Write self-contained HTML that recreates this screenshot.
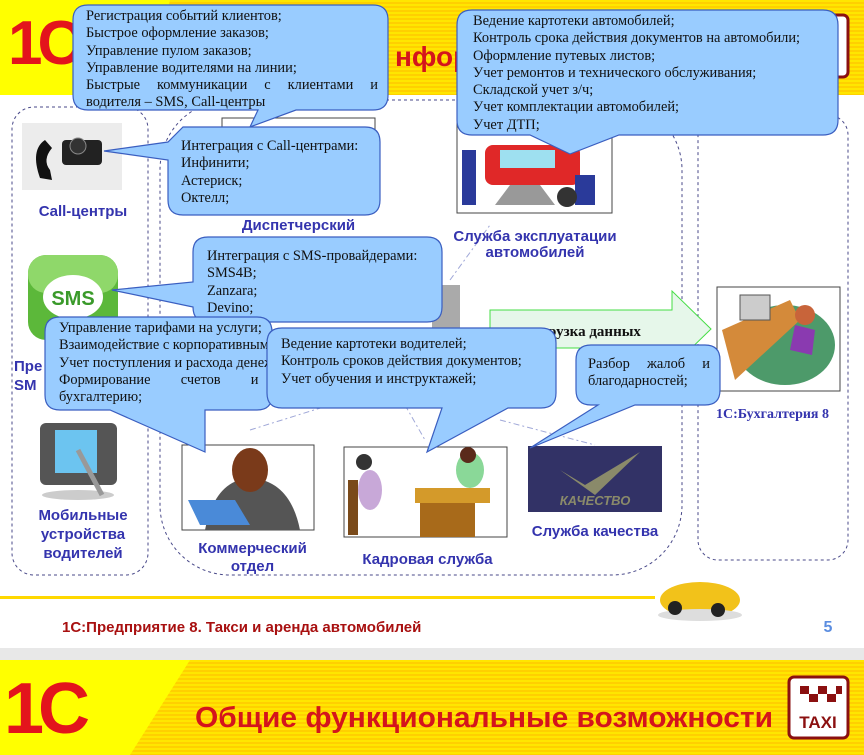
<!DOCTYPE html>
<html><head><meta charset="utf-8"><style>
body{margin:0;width:864px;height:755px;overflow:hidden;background:#e8e8e8;position:relative;font-family:"Liberation Sans",sans-serif}
.t{position:absolute;font-family:"Liberation Serif",serif;font-size:14.4px;line-height:17.3px;color:#111;text-align:justify}
.t div{white-space:nowrap}
.j{white-space:normal!important;text-align:justify;text-align-last:justify}
.lb{position:absolute;color:#3434ae;font-weight:bold;font-size:15px;text-align:center;line-height:19px}
</style></head><body>
<svg width="864" height="755" style="position:absolute;left:0;top:0">
<defs>
<pattern id="st" width="4" height="4" patternUnits="userSpaceOnUse"><rect width="4" height="4" fill="#ffe600"/><rect y="2" width="4" height="2" fill="#ffd000"/></pattern>
</defs>
<rect x="0" y="0" width="864" height="648" fill="#fff"/>
<rect x="0" y="0" width="864" height="95" fill="url(#st)"/>
<polygon points="0,0 170,0 150,95 0,95" fill="#ffff00"/>
<text x="8" y="64" font-family="Liberation Sans" font-weight="bold" font-size="62" fill="#e3141c" letter-spacing="-5">1С</text>
<text x="395" y="66" font-family="Liberation Sans" font-weight="bold" font-size="28" fill="#d4141c">нфор</text>
<rect x="812" y="15" width="36" height="62" rx="5" fill="#fff" stroke="#8b1010" stroke-width="3"/>
<rect x="12" y="107" width="136" height="468" rx="22" fill="none" stroke="#4a4a8a" stroke-dasharray="3,3"/>
<rect x="160" y="100" width="522" height="475" rx="70" fill="none" stroke="#4a4a8a" stroke-dasharray="3,3"/>
<rect x="698" y="115" width="150" height="445" rx="20" fill="none" stroke="#4a4a8a" stroke-dasharray="3,3"/>
<g stroke="#a0a8d8" stroke-dasharray="6,3,2,3" fill="none">
<line x1="450" y1="280" x2="490" y2="225"/><line x1="250" y1="430" x2="330" y2="405"/><line x1="500" y1="420" x2="595" y2="445"/><line x1="405" y1="405" x2="425" y2="440"/>
</g>
<rect x="22" y="123" width="100" height="67" fill="#ececec"/>
<rect x="62" y="140" width="40" height="25" rx="4" fill="#222"/><circle cx="78" cy="146" r="8" fill="#333" stroke="#888"/>
<path d="M45,140 Q30,150 40,178 L52,180 L50,170 Q42,160 52,148 Z" fill="#111"/>
<rect x="28" y="255" width="90" height="85" rx="18" fill="#5cb83a"/><rect x="28" y="255" width="90" height="38" rx="18" fill="#8fd86a"/>
<ellipse cx="73" cy="297" rx="30" ry="22" fill="#fff"/><text x="73" y="305" text-anchor="middle" font-weight="bold" font-size="20" fill="#3a9a2a">SMS</text>
<rect x="40" y="423" width="77" height="62" rx="6" fill="#555"/><rect x="55" y="430" width="42" height="43" fill="#6cc4f0"/>
<ellipse cx="78" cy="495" rx="36" ry="5" fill="#ccc"/><line x1="78" y1="450" x2="102" y2="495" stroke="#999" stroke-width="5"/>
<rect x="222" y="118" width="153" height="60" fill="#fff" stroke="#444"/>
<rect x="457" y="100" width="155" height="113" fill="#fff" stroke="#444"/>
<rect x="485" y="145" width="95" height="40" rx="8" fill="#e02828"/><rect x="500" y="150" width="55" height="18" fill="#9ee0f0"/>
<polygon points="510,185 540,185 555,205 495,205" fill="#999"/>
<rect x="462" y="150" width="14" height="55" fill="#2a3a9a"/><rect x="575" y="175" width="20" height="30" fill="#2a3a9a"/><circle cx="567" cy="197" r="10" fill="#333"/>
<rect x="432" y="285" width="28" height="45" fill="#aaa"/>
<polygon points="490,310 672,310 672,291 711,329 672,367 672,348 490,348" fill="#e6f7ea" stroke="#44dd44"/>
<text x="548" y="336" font-family="Liberation Serif" font-weight="bold" font-size="15" fill="#111">рузка данных</text>
<rect x="717" y="287" width="123" height="104" fill="#fff" stroke="#444"/>
<ellipse cx="785" cy="345" rx="50" ry="40" fill="#4d9a6a"/><polygon points="722,330 790,300 800,320 735,380" fill="#d48a3a"/>
<rect x="740" y="295" width="30" height="25" fill="#ccc" stroke="#555"/><circle cx="805" cy="315" r="10" fill="#c8643a"/><path d="M795,325 L815,330 L812,355 L790,350Z" fill="#8a3ab0"/>
<rect x="182" y="445" width="132" height="85" fill="#fff" stroke="#444"/>
<path d="M205,530 Q215,480 250,478 Q290,480 300,530 Z" fill="#555"/><ellipse cx="250" cy="470" rx="18" ry="22" fill="#7a3a1a"/>
<polygon points="188,500 235,500 250,525 200,525" fill="#4a8ad8"/>
<rect x="344" y="447" width="163" height="90" fill="#fff" stroke="#444"/>
<rect x="415" y="488" width="75" height="15" fill="#d49a2a"/><rect x="420" y="503" width="55" height="34" fill="#a86a1a"/>
<ellipse cx="470" cy="470" rx="14" ry="18" fill="#8ad898"/><circle cx="468" cy="455" r="8" fill="#5a2a1a"/>
<ellipse cx="370" cy="490" rx="12" ry="20" fill="#c8a8d8"/><circle cx="364" cy="462" r="8" fill="#333"/><rect x="348" y="480" width="10" height="55" fill="#7a4a1a"/>
<rect x="528" y="446" width="134" height="66" fill="#323266"/>
<path d="M560,470 L585,485 L640,452 L595,495 Z" fill="#8a8a6a"/>
<text x="595" y="505" text-anchor="middle" font-style="italic" font-weight="bold" font-size="13" fill="#8a8a6a">КАЧЕСТВО</text>
<g fill="#99ccff" stroke="#3a5ec0" stroke-width="1.2">
<path d="M88,5 H373 Q388,5 388,20 V95 Q388,110 373,110 H296 L250,127 L258,110 H88 Q73,110 73,95 V20 Q73,5 88,5Z"/>
<path d="M472,10 H823 Q838,10 838,25 V120 Q838,135 823,135 H619 L570,154 L530,135 H472 Q457,135 457,120 V25 Q457,10 472,10Z"/>
<path d="M183,127 H365 Q380,127 380,142 V200 Q380,215 365,215 H183 Q168,215 168,200 V160 L104,151 L168,142 Z"/>
<path d="M208,237 H427 Q442,237 442,252 V307 Q442,322 427,322 H208 Q193,322 193,307 L112,290 L193,282 V252 Q193,237 208,237Z"/>
<path d="M60,317 H257 Q272,317 272,332 V395 Q272,410 257,410 H205 V452 L110,410 H60 Q45,410 45,395 V332 Q45,317 60,317Z"/>
<path d="M282,328 H541 Q556,328 556,343 V393 Q556,408 541,408 H508 L427,452 L442,408 H282 Q267,408 267,393 V343 Q267,328 282,328Z"/>
<path d="M591,345 H705 Q720,345 720,360 V390 Q720,405 705,405 H635 L530,448 L598,405 H591 Q576,405 576,390 V360 Q576,345 591,345Z"/>
</g>
<rect x="0" y="596" width="655" height="3" fill="#ffd800"/>
<ellipse cx="700" cy="600" rx="40" ry="18" fill="#f2c21a"/><ellipse cx="700" cy="615" rx="42" ry="6" fill="#ddd"/>
<circle cx="675" cy="608" r="7" fill="#222"/><circle cx="718" cy="610" r="7" fill="#222"/>
<text x="62" y="632" font-weight="bold" font-size="15" fill="#a81010">1С:Предприятие 8. Такси и аренда автомобилей</text>
<text x="828" y="632" text-anchor="middle" font-weight="bold" font-size="16" fill="#5b8de0">5</text>
<rect x="0" y="660" width="864" height="95" fill="url(#st)"/>
<polygon points="0,660 190,660 130,755 0,755" fill="#ffff00"/>
<text x="4" y="733" font-weight="bold" font-size="72" fill="#e3141c" letter-spacing="-6">1С</text>
<text x="195" y="727" font-weight="bold" font-size="29" fill="#d4141c" textLength="578" lengthAdjust="spacingAndGlyphs">Общие функциональные возможности</text>
<rect x="789" y="677" width="59" height="61" rx="5" fill="#fff" stroke="#8b1010" stroke-width="3"/>
<g fill="#8b1010"><rect x="800" y="686" width="9" height="8"/><rect x="818" y="686" width="9" height="8"/><rect x="836" y="686" width="6" height="8"/><rect x="809" y="694" width="9" height="8"/><rect x="827" y="694" width="9" height="8"/></g>
<text x="818" y="728" text-anchor="middle" font-size="17" fill="#8b1010" font-weight="bold">TAXI</text>
</svg>

<div class="lb" style="left:22px;top:202px;width:122px">Call-центры</div>
<div class="lb" style="left:14px;top:357px;text-align:left">Пре<br>SM</div>
<div class="lb" style="left:22px;top:506px;width:122px">Мобильные<br>устройства<br>водителей</div>
<div class="lb" style="left:222px;top:216px;width:153px">Диспетчерский</div>
<div class="lb" style="left:440px;top:229px;width:190px;line-height:16px">Служба эксплуатации<br>автомобилей</div>
<div class="lb" style="left:180px;top:540px;width:145px;line-height:18px">Коммерческий<br>отдел</div>
<div class="lb" style="left:350px;top:550px;width:155px">Кадровая служба</div>
<div class="lb" style="left:520px;top:522px;width:150px">Служба качества</div>
<div class="lb" style="left:705px;top:405px;width:135px;font-family:'Liberation Serif',serif;font-size:14px">1С:Бухгалтерия 8</div>

<div class="t" style="left:86px;top:8px;width:292px"><div>Регистрация событий клиентов;</div><div>Быстрое оформление заказов;</div><div>Управление пулом заказов;</div><div>Управление водителями на линии;</div><div class="j">Быстрые коммуникации с клиентами и</div><div>водителя – SMS, Call-центры</div></div>
<div class="t" style="left:473px;top:13px;width:360px"><div>Ведение картотеки автомобилей;</div><div>Контроль срока действия документов на автомобили;</div><div>Оформление путевых листов;</div><div>Учет ремонтов и технического обслуживания;</div><div>Складской учет з/ч;</div><div>Учет комплектации автомобилей;</div><div>Учет ДТП;</div></div>
<div class="t" style="left:181px;top:138px;width:195px"><div>Интеграция с Call-центрами:</div><div>Инфинити;</div><div>Астериск;</div><div>Октелл;</div></div>
<div class="t" style="left:207px;top:248px;width:232px"><div>Интеграция с SMS-провайдерами:</div><div>SMS4B;</div><div>Zanzara;</div><div>Devino;</div></div>
<div class="t" style="left:59px;top:320px;width:300px;overflow:hidden;height:88px;clip-path:inset(0 92px 0 0)"><div>Управление тарифами на услуги;</div><div>Взаимодействие с корпоративными</div><div>Учет поступления и расхода денежных</div><div class="j" style="width:300px">Формирование счетов и актов в</div><div>бухгалтерию;</div></div>
<div class="t" style="left:281px;top:336px;width:270px"><div>Ведение картотеки водителей;</div><div>Контроль сроков действия документов;</div><div>Учет обучения и инструктажей;</div></div>
<div class="t" style="left:588px;top:356px;width:122px"><div class="j">Разбор жалоб и</div><div>благодарностей;</div></div>
</body></html>
